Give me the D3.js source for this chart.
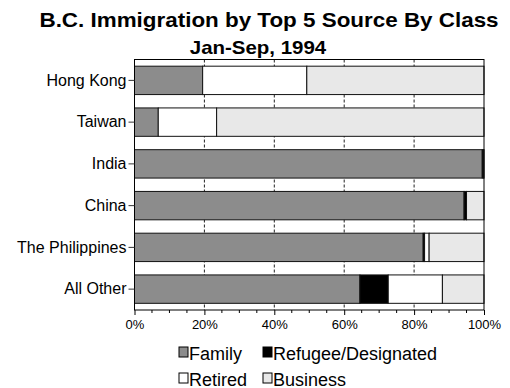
<!DOCTYPE html>
<html>
<head>
<meta charset="utf-8">
<script src="https://cdn.jsdelivr.net/npm/d3@7"></script>
<style>
    body { margin: 0; background: #fff; }
    text { font-family: "Liberation Sans", Arial, sans-serif; fill: #000; }
</style>
</head>
<body>
<svg id="chart"></svg>
<script>
var categories = ["Hong Kong", "Taiwan", "India", "China", "The Philippines", "All Other"];
var classes = ["Family", "Refugee/Designated", "Retired", "Business"];
var family = [19.5, 6.8, 99.5, 94.3, 82.6, 64.5];
var refugee = [0, 0, 0.4, 0.7, 0.4, 8.1];
var retired = [29.8, 16.7, 0, 0, 1.3, 15.5];
var business = [50.7, 76.5, 0.1, 5.0, 15.7, 11.9];
var xTicks = [0, 20, 40, 60, 80, 100];

var chartWidth = 510, chartHeight = 388;
var plotLeft = 134.5, plotRight = 484, plotTop = 59.5, plotBottom = 310;
var fills = ["#8c8c8c", "#000000", "#ffffff", "#e8e8e8"];

var rows = categories.map(function(c, i) {
    return {name: c, "Family": family[i], "Refugee/Designated": refugee[i],
        "Retired": retired[i], "Business": business[i]};
});
var stacked = d3.stack().keys(classes)(rows);

var xScale = d3.scaleLinear().domain([0, 100]).range([plotLeft, plotRight]);
var yScale = d3.scaleBand()
    .domain(categories)
    .range([plotTop, plotBottom])
    .paddingInner(0.32)
    .paddingOuter(0.16);

var chart = d3.select("#chart")
    .attr("width", chartWidth)
    .attr("height", chartHeight);

// titles (original is slightly stretched horizontally)
chart.append("text")
    .attr("transform", "translate(269,26.5) scale(1.15,1)")
    .attr("text-anchor", "middle")
    .style("font-size", "19.5px")
    .style("font-weight", "bold")
    .text("B.C. Immigration by Top 5 Source By Class");
chart.append("text")
    .attr("transform", "translate(258,54) scale(1.17,1)")
    .attr("text-anchor", "middle")
    .style("font-size", "17.5px")
    .style("font-weight", "bold")
    .text("Jan-Sep, 1994");

// dashed gridlines
chart.append("g")
    .selectAll("line")
    .data(xTicks.slice(1, -1))
    .enter().append("line")
        .attr("x1", xScale).attr("x2", xScale)
        .attr("y1", plotTop).attr("y2", plotBottom)
        .attr("stroke", "#222")
        .attr("stroke-dasharray", "3,2");

// bars
chart.append("g")
    .selectAll("g")
    .data(stacked)
    .enter().append("g")
        .attr("fill", function(d, i) { return fills[i]; })
    .selectAll("rect")
    .data(function(d) { return d; })
    .enter().append("rect")
        .attr("x", function(d) { return xScale(d[0]); })
        .attr("width", function(d) { return xScale(d[1]) - xScale(d[0]); })
        .attr("y", function(d) { return yScale(d.data.name); })
        .attr("height", yScale.bandwidth())
        .attr("stroke", "#111")
        .attr("stroke-width", 1)
        .style("display", function(d) { return d[1] - d[0] > 0 ? null : "none"; });

// frame
chart.append("rect")
    .attr("x", plotLeft).attr("y", plotTop)
    .attr("width", plotRight - plotLeft).attr("height", plotBottom - plotTop)
    .attr("fill", "none")
    .attr("stroke", "#000");

// bottom axis
var xAxis = chart.append("g")
    .attr("transform", "translate(0," + plotBottom + ")")
    .call(d3.axisBottom(xScale)
        .tickValues(xTicks)
        .tickSize(5)
        .tickPadding(5)
        .tickFormat(function(d) { return d + "%"; }));
xAxis.selectAll("text").style("font-size", "13px").attr("font-family", null);
xAxis.select(".domain").remove();
xAxis.append("g")
    .selectAll("line")
    .data(d3.range(0, 101, 5).filter(function(d) { return d % 20 !== 0; }))
    .enter().append("line")
        .attr("x1", xScale).attr("x2", xScale)
        .attr("y1", 0).attr("y2", 3)
        .attr("stroke", "#000");

// left axis
var yAxis = chart.append("g")
    .attr("transform", "translate(" + plotLeft + ",0)")
    .call(d3.axisLeft(yScale).tickSize(6).tickPadding(2));
yAxis.selectAll("text").style("font-size", "16px").attr("font-family", null);
yAxis.select(".domain").remove();
yAxis.selectAll("line").attr("stroke", "#333");

// legend
var legend = chart.append("g")
    .selectAll("g")
    .data(classes)
    .enter().append("g")
        .attr("transform", function(d, i) {
            return "translate(" + [179, 263][i % 2] + "," + [347, 373][Math.floor(i / 2)] + ")";
        });
legend.append("rect")
    .attr("width", 9).attr("height", 10)
    .attr("fill", function(d, i) { return fills[i]; })
    .attr("stroke", "#000");
legend.append("text")
    .attr("x", 10)
    .attr("y", 12.5)
    .style("font-size", "18px")
    .text(function(d) { return d; });
</script>
</body>
</html>
